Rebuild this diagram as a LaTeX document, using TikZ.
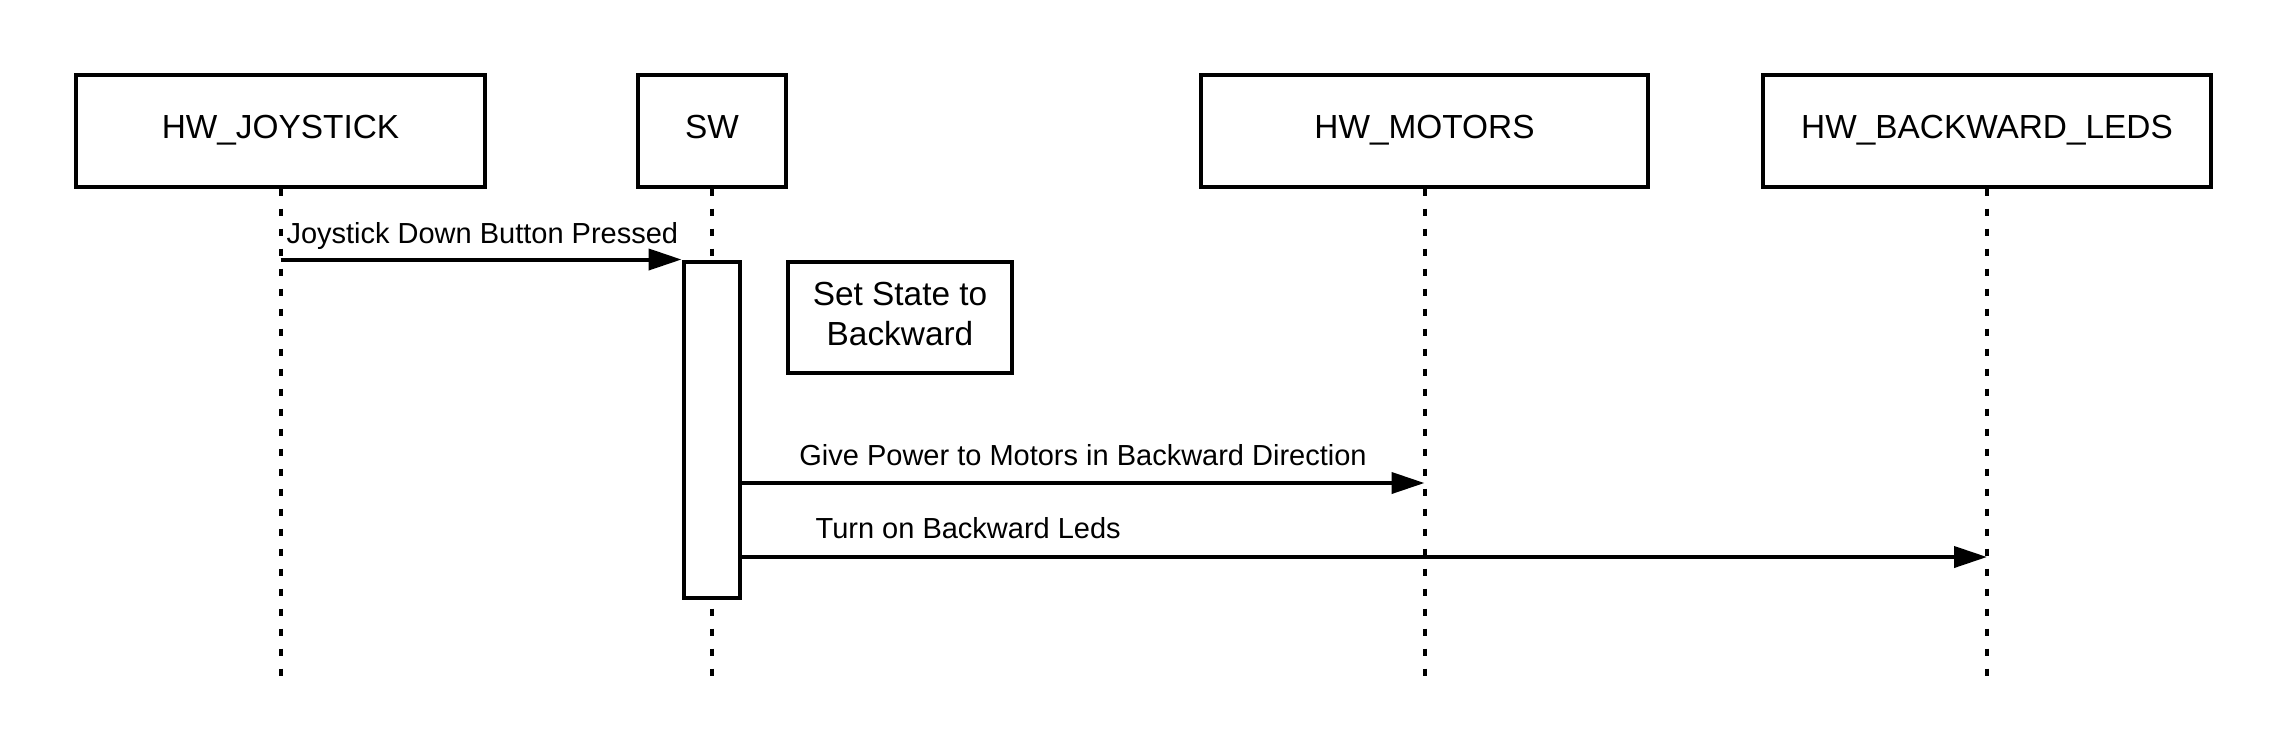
\documentclass[tikz,border=0pt]{standalone}
\usepackage{fontspec}
\setmainfont{Liberation Sans}
\usetikzlibrary{arrows.meta}

\tikzset{
  actor/.style={draw, line width=0.08cm, minimum height=2.24cm, inner sep=0pt, text height=0.48cm, text depth=0.17cm, font=\fontsize{19}{23}\selectfont},
  life/.style={line width=0.08cm, dash pattern=on 0.14cm off 0.26cm},
  msg/.style={line width=0.08cm, -{Triangle[length=0.66cm,width=0.42cm]}},
  lbl/.style={font=\fontsize{16.5}{20}\selectfont, inner sep=0pt}
}

\begin{document}
\begin{tikzpicture}
\useasboundingbox (0,0) rectangle (45.76,-15);

\node[actor, minimum width=8.18cm] (joy) at (5.61,-2.61) {HW\_JOYSTICK};
\node[actor, minimum width=2.96cm] (sw) at (14.24,-2.61) {SW};
\node[actor, minimum width=8.94cm] (mot) at (28.49,-2.61) {HW\_MOTORS};
\node[actor, minimum width=8.96cm] (leds) at (39.74,-2.61) {HW\_BACKWARD\_LEDS};

\coordinate (joyE) at (joy.south |- 0,-13.52);
\coordinate (swE) at (sw.south |- 0,-13.52);
\coordinate (motE) at (mot.south |- 0,-13.52);
\coordinate (ledsE) at (leds.south |- 0,-13.52);

\draw[life] (joy.south) -- (joyE);
\draw[life] (sw.south) -- (swE);
\draw[life] (mot.south) -- (motE);
\draw[life] (leds.south) -- (ledsE);

\node[draw, fill=white, line width=0.08cm, minimum width=1.12cm, minimum height=6.73cm, inner sep=0pt] (act) at (14.23,-8.595) {};
\node[draw, line width=0.08cm, minimum width=4.48cm, minimum height=2.22cm, align=center, inner sep=0pt,
  text height=1.3cm, text depth=0.2cm, font=\fontsize{19}{22.6}\selectfont] (state) at (18.0,-6.35) {Set State to\\Backward};

\coordinate (m1) at (joy.south |- act.north);
\coordinate (m2) at (act.east |- 0,-9.66);
\coordinate (m3) at (act.east |- 0,-11.14);

\draw[msg] (m1) -- node[lbl, pos=0, anchor=base west, xshift=0.08cm, yshift=0.33cm] {Joystick Down Button Pressed} (act.north west);
\draw[msg] (m2) -- node[lbl, midway, anchor=base, yshift=0.36cm] {Give Power to Motors in Backward Direction} (mot |- m2);
\draw[msg] (m3) -- node[lbl, pos=0.182, anchor=base, yshift=0.38cm] {Turn on Backward Leds} (leds |- m3);
\end{tikzpicture}
\end{document}
